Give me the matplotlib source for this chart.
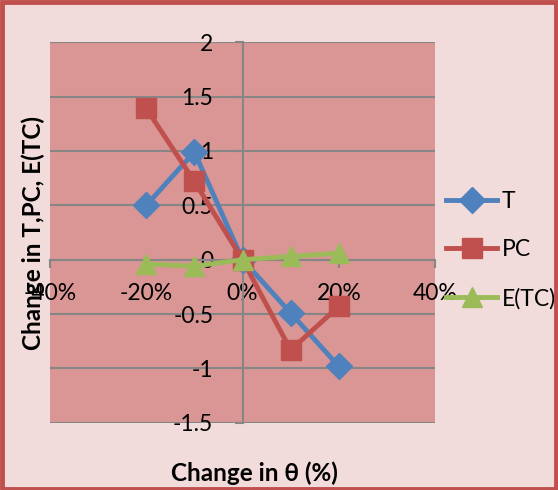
import numpy as np
import matplotlib.pyplot as plt
from matplotlib.patches import Rectangle

x = [-20, -10, 0, 10, 20]
t_vals = [0.5, 0.99, 0.0, -0.49, -0.98]
pc_vals = [1.39, 0.72, 0.0, -0.83, -0.43]
etc_vals = [-0.04, -0.06, 0.0, 0.03, 0.06]
xticks = [-40, -20, 0, 20, 40]
yticks = [-1.5, -1, -0.5, 0, 0.5, 1, 1.5, 2]

plt.rcParams['font.family'] = ['Lato', 'DejaVu Sans']

fig = plt.figure(figsize=(5.58, 4.9), dpi=100, facecolor='#F2DCDB')
fig.patches.append(Rectangle((0.003, 0.003), 0.994, 0.992, transform=fig.transFigure,
                             fill=False, edgecolor='#C0504D', linewidth=3.5))
ax = fig.add_axes([0.0896, 0.137, 0.69, 0.777])
ax.set_facecolor('#D99694')

ax.plot(x, t_vals, color='#4F81BD', lw=3.5, marker='D', ms=13, label='T', zorder=3)
ax.plot(x, pc_vals, color='#C0504D', lw=3.5, marker='s', ms=14.5, label='PC', zorder=3)
ax.plot(x, etc_vals, color='#9BBB59', lw=3.5, marker='^', ms=14.5, label='E(TC)', zorder=3)

ax.set_xlim(-40, 40)
ax.set_ylim(-1.5, 2)
ax.set_yticks(yticks)
ax.set_yticklabels(['-1.5', '-1', '-0.5', '0', '0.5', '1', '1.5', '2'])
ax.set_xticks(xticks)
ax.set_xticklabels([f'{v}%' for v in xticks])
ax.grid(axis='y', color='#868686', lw=1.5)
ax.set_axisbelow(True)

ax.spines['left'].set_position(('data', 0))
ax.spines['bottom'].set_position(('data', 0))
for s in ['top', 'right']:
    ax.spines[s].set_visible(False)
for s in ['left', 'bottom']:
    ax.spines[s].set_color('#868686')
    ax.spines[s].set_linewidth(1.5)
ax.tick_params(axis='both', labelsize=16.5, colors='#868686', labelcolor='black', width=1.5, length=6)
ax.tick_params(axis='y', pad=15)
ax.tick_params(axis='x', pad=11)

ax.set_xlabel('Change in θ (%)', fontsize=17.5, fontweight='bold')
ax.xaxis.set_label_coords(0.53, -0.1)
ax.set_ylabel('Change in T,PC, E(TC)', fontsize=17.5, fontweight='bold')
ax.yaxis.set_label_coords(-0.012, 0.5)

ax.legend(loc='center left', bbox_to_anchor=(1.0, 0.454), frameon=False, fontsize=16.5,
          handlelength=2.2, labelspacing=1.2, handletextpad=0.2, borderaxespad=0.1)

fig.savefig('out.png', dpi=100, facecolor=fig.get_facecolor())
